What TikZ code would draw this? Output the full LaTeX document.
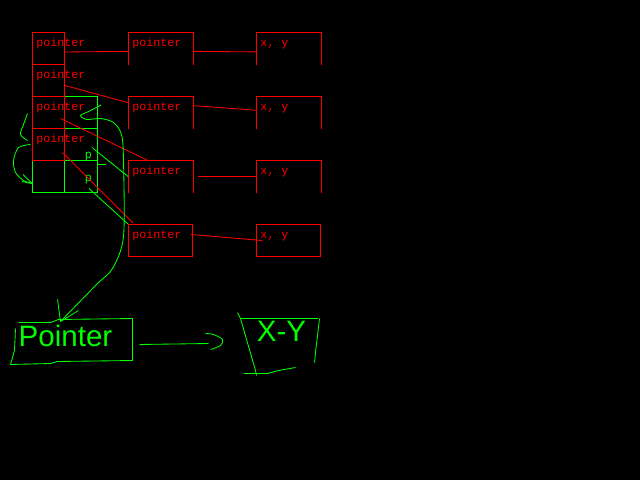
\documentclass[tikz,border=0pt]{standalone}
\usepackage{fontspec}
\newfontfamily\pixfont{Liberation Mono}
\newfontfamily\handfont{Liberation Sans}
\usetikzlibrary{calc}
\definecolor{scrred}{RGB}{255,0,0}
\definecolor{scrgreen}{RGB}{0,255,0}

\begin{document}
\begin{tikzpicture}[
  x=0.025cm,y=-0.025cm,
  line width=0.6pt,
  cell/.style={rectangle,draw=scrred,minimum width=0.8cm,minimum height=0.8cm,inner sep=0pt},
  slot/.style={rectangle,minimum width=1.6cm,minimum height=0.8cm,inner sep=0pt},
  gc/.style={rectangle,draw=scrgreen,minimum width=0.825cm,minimum height=0.8cm,inner sep=0pt},
  lab/.style={text=scrred,font=\pixfont\fontsize{8.3}{9}\selectfont,inner sep=0pt},
  glab/.style={lab,text=scrgreen},
  tag/.style={label={[lab,anchor=base west,xshift=2.8pt,yshift=-10.6pt]north west:#1}},
  lk/.style={draw=scrred},
  gl/.style={draw=scrgreen},
  hand/.style={text=scrgreen,font=\handfont\fontsize{21}{24}\selectfont,inner sep=0pt}]

\fill[black] (0,0) rectangle (640,480);

\begin{scope}[shift={(0.5,0.5)}]
% ================= green cells (drawn under the red ones) =================
\node[gc] (g0) at (80.5,112) {};
\node[gc] (g1) at (80.5,144) {};
\node[gc] (g2) at (80.5,176) {};
\node[gc,minimum width=0.8cm] (gb) at (48,176) {};
\node[glab] (pa) at (88,156) {p};
\node[glab] (pb) at (88,179) {p};
\draw[gl] ($(g2.north east)+(0,4)$) -- ++(8,0);

% ================= red column + boxes =================
\node[cell,tag=pointer] (c1) at (48,48) {};
\node[cell,tag=pointer] (c2) at (48,80) {};
\node[cell,tag=pointer] (c3) at (48,112) {};
\node[cell,tag=pointer] (c4) at (48,144) {};

\node[slot,tag=pointer] (p1) at (160,48) {};
\node[slot,tag=pointer] (p2) at (160,112) {};
\node[slot,tag=pointer] (p3) at (160,176) {};
\node[slot,draw=scrred,tag=pointer] (p4) at (160,240) {};
\node[slot,tag={x, y}] (x1) at (288,48) {};
\node[slot,tag={x, y}] (x2) at (288,112) {};
\node[slot,tag={x, y}] (x3) at (288,176) {};
\node[slot,draw=scrred,tag={x, y}] (x4) at (288,240) {};
% open boxes, no bottom edge
\foreach \n in {p1,p2,p3,x1,x2,x3}
  \draw[lk] (\n.south west) |- (\n.north east) -- (\n.south east);

% red links
\draw[lk] (c1.-12) -- (p1.185);
\draw[lk] (p1.-5) -- (x1.186);
\draw[lk] (c2.-17) -- (p2.163);
\draw[lk] (p2.12) -- (x2.176);
\draw[lk] ($(c3.center)+(12,6)$) -- ($(p3.north west)+(19,0)$);
\draw[lk] ($(p3.east)+(5,0)$) -- (x3.west);
\draw[lk] ($(c4.center)+(14,8)$) -- ($(p4.north west)+(5,-1)$);
\draw[lk] ($(p4.east)+(-2,-6)$) -- ($(x4.west)+(6,0)$);

% green links from the p cells
\draw[gl] ($(g1.center)+(11,3)$) -- (p3.west);
\draw[gl] ($(g2.center)+(8,12)$) -- (p4.north west);

% ================= sketch below =================
\node[hand] (ptr) at (65,335) {Pointer};
\node[hand] (xy) at (281,331) {X-Y};
\draw[gl] (18,322) -- (50,322) -- (58,319) -- (132,318) -- (132,360) -- (57,361)
  -- (50,363) -- (10,364) -- (14,350) -- (15,328);
\draw[gl] (237,312) -- (240,318) -- (255,370) -- (256,375);
\draw[gl] (240,318) -- (317,318);
\draw[gl] (319,318) -- (315,352) -- (314,362);
\draw[gl] (243,373) -- (267,373) -- (278,370) -- (295,367);

% curved arrow into the Pointer box
\coordinate (hook) at ($(g0.north east)+(3,9)$);
\coordinate (tip) at (60,321);
\draw[gl] plot[smooth] coordinates {(hook) (88,111) (80,115) (86,119) (100,118)
  (113,122) (121,134) (123,160) (123,236) (112,268) (96,284) (tip)};
\draw[gl] (tip) -- ++(-3,-22) (tip) -- ++(18,-11);

% curl on the left into the lower green cell
\coordinate (gin) at ($(gb.west)+(0,7)$);
\draw[gl] plot[smooth] coordinates {(27,113) (23,124) (20,134) (27,140)};
\draw[gl] plot[smooth] coordinates {(30,144) (18,147) (13,160) (15,172) (23,180) (gin)};
\draw[gl] (gin) -- ++(-9,-9) (gin) -- ++(-10,-2);

% Pointer -> X-Y
\coordinate (pout) at (139,344);
\coordinate (xin) at (208,343);
\draw[gl] (pout) -- (xin);
\draw[gl] plot[smooth] coordinates {(205,333) (213,334) (222,339) (220,345) (210,349)};
\end{scope}
\end{tikzpicture}
\end{document}
